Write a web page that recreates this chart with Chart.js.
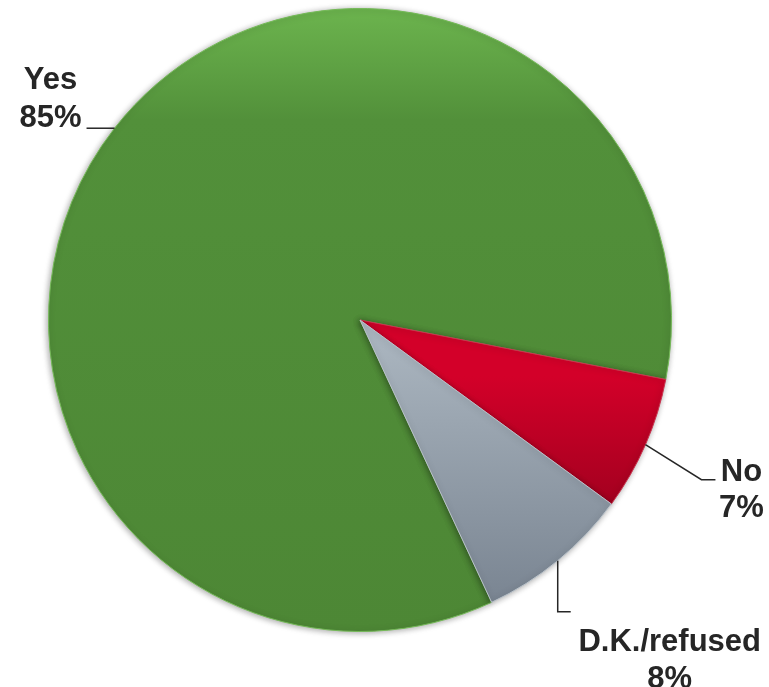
<!DOCTYPE html>
<html>
<head>
<meta charset="utf-8">
<script src="https://cdn.jsdelivr.net/npm/chart.js@4.4.0/dist/chart.umd.min.js"></script>
<style>
  html, body { margin: 0; padding: 0; background: #ffffff; }
  #wrap { width: 769px; height: 687px; position: relative; }
</style>
</head>
<body>
<div id="wrap"><canvas id="pieCanvas"></canvas></div>
<script>
// chart data
var categories = ['Yes', 'No', 'D.K./refused'];
var shares = [85, 7, 8];
var valueLabels = ['85%', '7%', '8%'];

// where each label sits, relative to the point where its leader leaves the pie
var leaderStyle = [
    { path: [[-28, 0]], textDx: -36, lineY: [-39, -1] },
    { path: [[56, 35], [70, 35]], textDx: 26, lineY: [1, 37] },
    { path: [[0, 51], [13, 51]], textDx: 99, lineY: [39, 76] }
];

function sliceGradient(context) {
    var chart = context.chart;
    var area = chart.chartArea;
    if (!area) return '#4f8a36';
    var ctx = chart.ctx;
    var g = ctx.createLinearGradient(0, area.top, 0, area.bottom);
    var i = context.dataIndex;
    if (i == 0) {
        g.addColorStop(0, '#6cb44e');
        g.addColorStop(0.18, '#52903a');
        g.addColorStop(1, '#4d8735');
    } else if (i == 1) {
        g.addColorStop(0.59, '#d30029');
        g.addColorStop(0.80, '#a2001f');
    } else {
        g.addColorStop(0.52, '#abb6c0');
        g.addColorStop(0.95, '#7a8592');
    }
    return g;
}

const shadowPlugin = {
    id: 'shadow',
    beforeDatasetsDraw(chart) {
        var ctx = chart.ctx;
        ctx.save();
        ctx.shadowColor = 'rgba(0,0,0,0.35)';
        ctx.shadowBlur = 6;
        ctx.shadowOffsetX = -1;
        ctx.shadowOffsetY = 1;
    },
    afterDatasetsDraw(chart) {
        chart.ctx.restore();
    }
};

const labelPlugin = {
    id: 'leaderLabels',
    afterDraw(chart) {
        var ctx = chart.ctx;
        var arcs = chart.getDatasetMeta(0).data;
        ctx.save();
        ctx.strokeStyle = '#262626';
        ctx.lineWidth = 1.5;
        ctx.fillStyle = '#262626';
        ctx.font = 'bold 31px "Liberation Sans", Arial, sans-serif';
        ctx.textAlign = 'center';
        ctx.textBaseline = 'alphabetic';
        for (var i = 0; i < arcs.length; i++) {
            var a = arcs[i];
            var mid = (a.startAngle + a.endAngle) / 2;
            var x0 = a.x + Math.cos(mid) * a.outerRadius;
            var y0 = a.y + Math.sin(mid) * a.outerRadius;
            var st = leaderStyle[i];
            ctx.beginPath();
            ctx.moveTo(x0, y0);
            var end = [x0, y0];
            for (var p = 0; p < st.path.length; p++) {
                end = [x0 + st.path[p][0], y0 + st.path[p][1]];
                ctx.lineTo(end[0], end[1]);
            }
            ctx.stroke();
            ctx.fillText(categories[i], end[0] + st.textDx, end[1] + st.lineY[0]);
            ctx.fillText(valueLabels[i], end[0] + st.textDx, end[1] + st.lineY[1]);
        }
        ctx.restore();
    }
};

const config = {
    type: 'pie',
    data: {
        labels: categories,
        datasets: [{
            data: shares,
            backgroundColor: sliceGradient,
            borderColor: ['#74b957', '#c9344e', '#b9c2ca'],
            borderWidth: 1
        }]
    },
    options: {
        responsive: true,
        maintainAspectRatio: false,
        animation: false,
        rotation: 155,
        layout: {
            padding: { left: 48, right: 97, top: 8, bottom: 55 }
        },
        plugins: {
            legend: { display: false },
            tooltip: { enabled: false }
        }
    },
    plugins: [shadowPlugin, labelPlugin]
};

new Chart(document.getElementById('pieCanvas'), config);
</script>
</body>
</html>
